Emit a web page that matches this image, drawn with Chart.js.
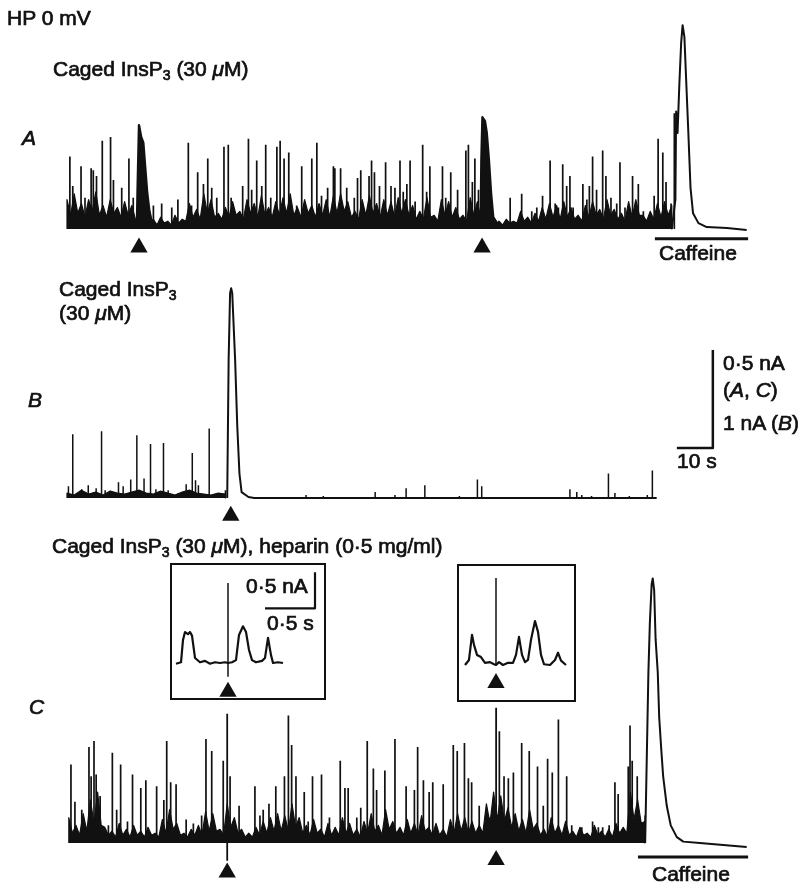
<!DOCTYPE html>
<html>
<head>
<meta charset="utf-8">
<script src="https://cdn.jsdelivr.net/npm/chart.js@4.4.1/dist/chart.umd.min.js"></script>
<style>
  body { margin: 0; background: #fff; }
  #fig { position: relative; width: 803px; height: 884px; overflow: hidden;
         font-family: "Liberation Sans", Arial, sans-serif; color: #111; }
  canvas { position: absolute; }
  .t { position: absolute; font-size: 21px; line-height: 20px; white-space: nowrap;
       -webkit-text-stroke: 0.7px #111; z-index: 5; }
  .t sub { font-size: 14px; vertical-align: -4px; line-height: 0; }
  .i { font-style: italic; }
  .box { position: absolute; border: 2px solid #111; box-sizing: border-box; background: #fff; }
</style>
</head>
<body>
<div id="fig">
  <div class="t" style="left:7px;top:8px">HP 0 mV</div>
  <div class="t" style="left:53px;top:59px">Caged InsP<sub>3</sub> (30 <i>μ</i>M)</div>
  <div class="t i" style="left:22px;top:128px">A</div>
  <div class="t" style="left:659px;top:243px">Caffeine</div>

  <div class="t" style="left:59px;top:279px">Caged InsP<sub>3</sub></div>
  <div class="t" style="left:59px;top:303px">(30 <i>μ</i>M)</div>
  <div class="t i" style="left:28px;top:390px">B</div>
  <div class="t" style="left:723px;top:353px">0·5 nA</div>
  <div class="t" style="left:723px;top:380px">(<i>A</i>, <i>C</i>)</div>
  <div class="t" style="left:723px;top:413px">1 nA (<i>B</i>)</div>
  <div class="t" style="left:677px;top:451px">10 s</div>

  <div class="t" style="left:52px;top:536px">Caged InsP<sub>3</sub> (30 <i>μ</i>M), heparin (0·5 mg/ml)</div>
  <div class="t i" style="left:29px;top:697px">C</div>
  <div class="t" style="left:652px;top:864px">Caffeine</div>

  <div class="box" style="left:170px;top:563px;width:156px;height:137px"></div>
  <div class="box" style="left:457px;top:564px;width:119px;height:138px"></div>
  <div class="t" style="left:246px;top:576px">0·5 nA</div>
  <div class="t" style="left:267px;top:613px">0·5 s</div>
</div>

<script>
// ---- A: caged InsP3, HP 0 mV (time in s, current in nA above baseline) ----
// noise envelope, one sample per second from t = 0
const aNoise = [0.15,0.07,0.18,0.08,0.13,0.06,0.15,0.09,0.19,0.07,0.12,0.06,0.15,0.08,0.11,0.06,0.14,0.07,0.12,0.05,
                0.04,0.02,0.04,0.03,0.05,0.02,0.06,0.03,0.04,0.02,0.07,0.03,0.05,0.04,0.13,0.06,0.10,0.05,0.18,0.08,
                0.15,0.06,0.08,0.05,0.11,0.06,0.14,0.07,0.09,0.05,0.15,0.08,0.13,0.06,0.17,0.07,0.11,0.06,0.14,0.07,
                0.16,0.08,0.18,0.07,0.11,0.06,0.15,0.08,0.12,0.06,0.13,0.07,0.15,0.06,0.17,0.08,0.18,0.09,0.14,0.06,
                0.09,0.05,0.15,0.07,0.17,0.08,0.13,0.06,0.15,0.07,0.14,0.06,0.16,0.08,0.15,0.07,0.12,0.05,0.09,0.05,
                0.16,0.06,0.07,0.04,0.15,0.07,0.14,0.06,0.11,0.05,0.07,0.04,0.16,0.07,0.14,0.05,0.03,0.02,0.03,0.02,
                0.04,0.02,0.05,0.03,0.04,0.03,0.09,0.04,0.06,0.03,0.08,0.04,0.11,0.05,0.13,0.06,0.12,0.05,0.14,0.06,
                0.11,0.05,0.07,0.04,0.12,0.06,0.14,0.07,0.10,0.05,0.15,0.07,0.10,0.05,0.08,0.04,0.14,0.06,0.15,0.07,
                0.07,0.04,0.09,0.05,0.13,0.06,0.14,0.07,0.12];
const aSpikeT = [0.8,1.6,3.9,5.0,6.7,7.3,8.2,9.8,12.1,12.9,
                 15.2,17.2,18.4,24.0,26.3,29.1,30.8,33.7,34.6,36.3,
                 37.9,39.1,40.2,41.6,43.6,44.8,45.6,48.8,50.4,51.3,
                 52.7,54.1,55.2,56.6,58.3,59.2,60.3,61.6,63.8,65.2,
                 68.0,69.4,70.7,72.4,74.0,74.4,76.0,77.7,79.8,80.7,
                 81.6,83.9,84.6,85.4,86.8,88.5,90.0,91.1,92.5,93.4,
                 94.4,95.3,96.7,98.8,99.9,100.8,104.3,105.2,106.6,108.5,
                 110.8,111.5,112.6,113.3,114.3,123.1,126.3,129.1,130.5,132.1,
                 134.2,135.6,136.5,137.7,138.8,139.7,140.6,143.3,144.4,145.1,
                 146.0,147.1,148.8,149.7,151.1,152.7,153.6,155.0,157.1,158.7,
                 160.1,163.1,164.2,165.5,166.4,167.8,168.7];
const aSpikeI = [0.37,0.22,0.32,0.16,0.31,0.30,0.27,0.45,0.47,0.25,
                 0.21,0.36,0.16,0.12,0.13,0.11,0.15,0.44,0.12,0.29,
                 0.23,0.36,0.21,0.16,0.42,0.43,0.16,0.22,0.46,0.20,
                 0.35,0.22,0.43,0.16,0.42,0.45,0.36,0.39,0.12,0.32,
                 0.36,0.44,0.17,0.21,0.32,0.31,0.31,0.21,0.16,0.26,
                 0.30,0.27,0.35,0.29,0.22,0.34,0.22,0.21,0.35,0.19,
                 0.23,0.35,0.14,0.43,0.19,0.32,0.32,0.16,0.29,0.20,
                 0.40,0.43,0.24,0.36,0.20,0.16,0.18,0.09,0.11,0.17,
                 0.35,0.13,0.11,0.33,0.22,0.27,0.11,0.23,0.15,0.22,
                 0.37,0.20,0.40,0.27,0.16,0.13,0.34,0.11,0.27,0.23,
                 0.09,0.17,0.46,0.39,0.24,0.13,0.59];
const aResp1T = [19.4,19.6,20.0,20.6,21.2,21.7,22.3,22.9,23.5,24.9,25.8];
const aResp1I = [0,0.20,0.53,0.47,0.44,0.32,0.18,0.09,0.04,0.02,0.01];
const aResp2T = [114.9,115.1,115.4,116.1,116.6,117.2,117.8,118.4,119.8,121.1];
const aResp2I = [0,0.35,0.57,0.55,0.49,0.35,0.18,0.06,0.02,0.01];
const aCafT = [168.0,169.0,169.2,169.6,170.1,170.6,171.0,171.5,171.9,172.6,173.2,173.9,175.4,177.7,183.3,188.8];
const aCafI = [0,0.15,0.60,0.49,0.74,0.95,1.04,0.98,0.80,0.49,0.21,0.08,0.03,0.01,0.005,-0.005];
const aFlashT = [20.0, 115.3];
const aCaffeine = [163.3, 189.2];

// ---- B ---- (noise sampled every 2 s)
const bNoise = [0.05,0.03,0.08,0.04,0.06,0.03,0.07,0.05,0.04,0.06,
                0.08,0.05,0.04,0.07,0.05,0.03,0.06,0.08,0.05,0.04,
                0.03,0.05,0.04];
const bSpikeT = [0.4,1.6,4.1,5.9,8.1,9.6,10.6,14.3,15.6,17.7,
                 19.4,21.4,23.2,24.7,26.8,28.1,30.9,33.1,34.8,35.7,
                 36.5,39.5,42.0,44.0,66.4,71.2,85.6,91.1,94.2,99.4,
                 109.0,114.0,115.2,139.7,141.6,143.0,145.7,150.4,152.2,156.2,
                 161.2,162.6];
const bSpikeI = [0.12,0.65,0.09,0.13,0.10,0.68,0.08,0.16,0.12,0.19,
                 0.64,0.20,0.55,0.09,0.56,0.08,0.05,0.14,0.46,0.18,
                 0.13,0.71,0.05,0.08,0.03,0.02,0.06,0.03,0.10,0.13,
                 0.02,0.19,0.12,0.09,0.06,0.03,0.02,0.25,0.05,0.02,
                 0.03,0.28];
const bRespT = [44.5,44.9,45.3,45.6,45.9,46.7,47.3,47.9,48.5,50.4,52.0,163.8];
const bRespI = [0,1.41,2.09,2.14,2.09,1.41,0.73,0.25,0.06,0.01,0,0];
const bFlashT = [45.5];
const scaleT = [169.4, 179.4, 179.4];   // 10 s
const scaleI = [0.51, 0.51, 1.51];      // 1 nA (B)

// ---- C: with heparin ---- (noise one sample per second from t = 0.5)
const cNoise = [0.13,0.05,0.09,0.04,0.15,0.06,0.22,0.10,0.26,0.09,0.08,0.04,0.06,0.03,0.10,0.04,0.07,0.03,0.09,0.04,
                0.06,0.03,0.08,0.04,0.05,0.03,0.12,0.05,0.17,0.07,0.10,0.04,0.05,0.03,0.07,0.04,0.09,0.04,0.16,0.06,
                0.15,0.06,0.07,0.04,0.20,0.08,0.13,0.05,0.07,0.03,0.05,0.03,0.08,0.04,0.11,0.05,0.13,0.06,0.15,0.06,
                0.14,0.06,0.20,0.08,0.13,0.05,0.09,0.04,0.12,0.05,0.07,0.03,0.10,0.04,0.08,0.04,0.13,0.05,0.10,0.04,
                0.07,0.03,0.11,0.05,0.15,0.06,0.09,0.04,0.17,0.07,0.11,0.05,0.08,0.04,0.12,0.05,0.10,0.04,0.14,0.06,
                0.08,0.04,0.10,0.04,0.07,0.03,0.12,0.05,0.15,0.06,0.13,0.05,0.11,0.05,0.09,0.05,0.20,0.10,0.26,0.12,
                0.24,0.11,0.18,0.08,0.15,0.06,0.12,0.05,0.17,0.07,0.10,0.04,0.07,0.03,0.13,0.05,0.09,0.04,0.11,0.04,
                0.06,0.03,0.08,0.04,0.05,0.03,0.09,0.04,0.06,0.03,0.07,0.03,0.10,0.05,0.08,0.05,0.26,0.12,0.22,0.10,
                0.11];
const cSpikeT = [1.1,2.2,4.1,6.1,6.7,7.5,8.1,9.2,11.5,12.6,
                 13.8,14.9,16.8,18.2,20.5,21.9,24.9,26.9,27.7,28.8,
                 30.3,33.1,35.1,37.4,38.6,40.2,43.4,45.3,47.8,52.2,
                 53.6,54.5,56.1,58.0,60.4,61.5,62.4,63.6,65.9,67.0,
                 68.2,70.7,72.9,75.9,77.2,78.1,80.5,81.6,83.4,85.1,
                 86.0,88.3,89.7,91.1,94.2,96.5,97.4,99.0,100.6,101.6,
                 104.5,107.3,108.4,110.4,111.5,112.4,114.5,117.5,120.1,121.4,
                 122.6,124.0,126.3,128.4,130.7,132.3,133.5,134.8,136.5,138.8,
                 140.2,143.0,146.0,147.6,148.8,150.6,152.2,153.1,155.9,156.4,
                 157.0,158.4,159.2,160.6];
const cSpikeI = [0.40,0.21,0.17,0.49,0.34,0.52,0.35,0.24,0.09,0.46,
                 0.17,0.40,0.11,0.35,0.28,0.32,0.29,0.22,0.52,0.31,
                 0.30,0.12,0.10,0.14,0.53,0.47,0.42,0.34,0.19,0.29,
                 0.14,0.17,0.20,0.29,0.34,0.65,0.50,0.34,0.26,0.11,
                 0.34,0.35,0.13,0.42,0.28,0.28,0.13,0.18,0.52,0.38,
                 0.27,0.37,0.08,0.53,0.29,0.27,0.49,0.32,0.26,0.31,
                 0.30,0.50,0.47,0.51,0.33,0.31,0.19,0.13,0.57,0.34,
                 0.33,0.36,0.51,0.47,0.39,0.19,0.43,0.36,0.63,0.34,
                 0.09,0.08,0.11,0.08,0.08,0.09,0.31,0.25,0.39,0.60,
                 0.42,0.34,0.13,0.14];
const cFlashT = [44.5, 119.2];
const cFlashLo = [-0.09, 0];
const cFlashHi = [0.66, 0.69];
const cCafT = [160.6,161.5,161.9,162.4,162.7,163.1,163.5,164.1,164.5,165.1,165.6,166.6,167.7,169.4,171.2,175.8,188.8];
const cCafI = [0,0.87,1.12,1.32,1.35,1.29,1.04,0.87,0.64,0.47,0.34,0.19,0.09,0.03,0.007,0,-0.02];
const cCaffeine = [158.6, 189.2];

// ---- insets (time from flash, s) ----
const in1T = [-0.52,-0.47,-0.45,-0.43,-0.40,-0.38,-0.36,-0.33,-0.28,-0.23,-0.18,-0.13,-0.08,-0.03,0,
              0.04,0.08,0.11,0.15,0.18,0.21,0.24,0.28,0.34,0.37,0.40,0.43,0.45,0.50,0.55];
const in1I = [-0.01,0.01,0.32,0.43,0.40,0.43,0.38,0.07,0.01,0.03,-0.01,0.01,0,0.01,0,
              0.01,0.04,0.39,0.51,0.43,0.18,0.04,0.01,0.03,0.07,0.35,0.11,0,0.01,0];
const in1Flash = [-0.19, 1.11];
const in2T = [-0.31,-0.27,-0.24,-0.22,-0.19,-0.15,-0.11,-0.06,-0.02,0,0.03,0.07,0.12,0.17,
              0.20,0.23,0.26,0.29,0.32,0.35,0.39,0.42,0.45,0.48,0.54,0.59,0.62,0.65,0.70];
const in2I = [0,0.07,0.42,0.28,0.14,0.11,0.03,0.04,0.01,0,0.04,0,0.03,0.03,
              0.14,0.39,0.14,0.04,0.07,0.35,0.61,0.46,0.14,0.01,0,0.07,0.17,0.06,0];
const in2Flash = [0, 1.21];
const inScaleT = [0.37, 0.87, 0.87];  // 0.5 s
const inScaleI = [0.76, 0.76, 1.26];  // 0.5 nA

// ---------------- drawing ----------------
const INK = '#111';
const fig = document.getElementById('fig');

function pts(T, I) { return T.map((t, i) => ({ x: t, y: I[i] })); }
function spikes(T, I, lo) {
  const out = [];
  T.forEach((t, i) => {
    out.push({ x: t, y: lo ? lo[i] : 0 }, { x: t, y: I[i] }, { x: t, y: null });
  });
  return out;
}
function band(t0, dt, vals) {
  const d = [{ x: t0, y: 0 }];
  vals.forEach((v, k) => d.push({ x: t0 + k * dt, y: v }));
  d.push({ x: t0 + (vals.length - 1) * dt, y: 0 });
  return d;
}
function line(data, w) {
  return { type: 'line', data, borderColor: INK, borderWidth: w, pointRadius: 0,
           fill: false, tension: 0, spanGaps: false, borderJoinStyle: 'round' };
}
function filled(data, w) {
  return Object.assign(line(data, w || 1.2), { fill: { value: 0 }, backgroundColor: INK });
}
function marks(T, y) {
  return { type: 'scatter', data: T.map(t => ({ x: t, y })), pointStyle: 'triangle',
           pointRadius: 10, pointBackgroundColor: INK, pointBorderWidth: 0, showLine: false };
}

// px layout -> axis range
function xr(left, width, origin, pxPerUnit) {
  return { min: (left - origin) / pxPerUnit, max: (left + width - origin) / pxPerUnit };
}
function yr(top, height, base, pxPerUnit) {
  return { min: -(top + height - base) / pxPerUnit, max: (base - top) / pxPerUnit };
}

function panel(left, top, width, height, x, y, datasets) {
  const c = document.createElement('canvas');
  c.width = width; c.height = height;
  c.style.left = left + 'px'; c.style.top = top + 'px';
  fig.appendChild(c);
  new Chart(c.getContext('2d'), {
    type: 'line',
    data: { datasets },
    options: {
      responsive: false, animation: false, devicePixelRatio: 1, events: [],
      layout: { padding: 0, autoPadding: false },
      plugins: { legend: { display: false }, tooltip: { enabled: false } },
      scales: {
        x: { type: 'linear', display: false, min: x.min, max: x.max },
        y: { type: 'linear', display: false, min: y.min, max: y.max }
      }
    }
  });
}

const X0 = 67, PX_S = 3.6, PX_NA = 196; // main traces: 10 s = 36 px, 0.5 nA = 98 px

panel(0, 0, 803, 262, xr(0, 803, X0, PX_S), yr(0, 262, 229, PX_NA), [
  filled(band(0, 1, aNoise)),
  line(spikes(aSpikeT, aSpikeI), 1.7),
  filled(pts(aResp1T, aResp1I), 2.4),
  filled(pts(aResp2T, aResp2I), 2.4),
  line(pts(aCafT, aCafI), 2),
  marks(aFlashT, -0.095),
  line(pts(aCaffeine, [-0.05, -0.05]), 3)
]);

panel(0, 262, 803, 262, xr(0, 803, X0, PX_S), yr(262, 262, 498, PX_NA / 2), [
  filled(band(0, 2, bNoise)),
  line(spikes(bSpikeT, bSpikeI), 1.5),
  line(pts(bRespT, bRespI), 2),
  marks(bFlashT, -0.18),
  line(pts(scaleT, scaleI), 2.5)
]);

panel(0, 540, 803, 344, xr(0, 803, X0, PX_S), yr(540, 344, 843, PX_NA), [
  filled(band(0.5, 1, cNoise)),
  line(spikes(cSpikeT, cSpikeI), 1.7),
  line(spikes(cFlashT, cFlashHi, cFlashLo), 1.8),
  line(pts(cCafT, cCafI), 2),
  marks([cFlashT[0]], -0.15),
  marks([cFlashT[1]], -0.087),
  line(pts(cCaffeine, [-0.071, -0.071]), 3)
]);

// insets: 0.5 s = 50 px, 0.5 nA = 36 px
panel(172, 565, 152, 133, xr(172, 152, 228, 100), yr(565, 133, 663, 72), [
  line(pts(in1T, in1I), 2.2),
  line(spikes([0], [in1Flash[1]], [in1Flash[0]]), 1.5),
  marks([0], -0.40),
  line(pts(inScaleT, inScaleI), 2.2)
]);
panel(459, 566, 115, 134, xr(459, 115, 496, 100), yr(566, 134, 665, 72), [
  line(pts(in2T, in2I), 2.2),
  line(spikes([0], [in2Flash[1]], [in2Flash[0]]), 1.5),
  marks([0], -0.25)
]);
</script>
</body>
</html>
